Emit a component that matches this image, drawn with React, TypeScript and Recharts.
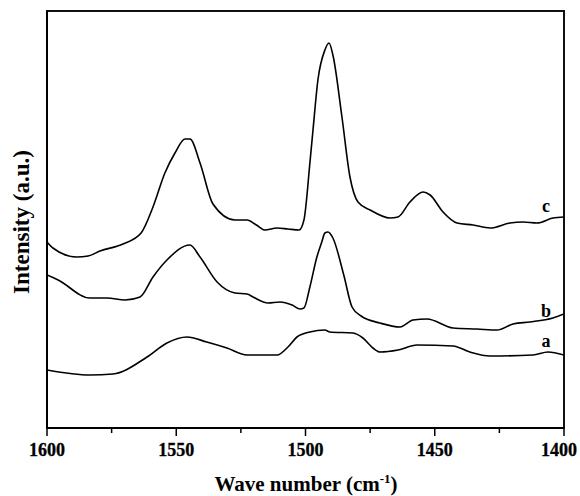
import React from 'react';
import * as R from 'recharts';
import { LineChart, Line, XAxis, YAxis, ReferenceDot } from 'recharts';

const FONT = '"Liberation Serif", "Times New Roman", serif';

const cWave = [1600, 1597.7, 1588.5, 1584.1, 1579.5, 1570.6, 1563.6, 1559.0, 1554.4, 1550.5, 1546.6, 1544.7, 1540.8, 1535.8, 1527.3, 1522.6, 1519, 1515.7, 1511, 1506.8, 1502.5, 1500.6, 1498.3, 1497.1, 1495.2, 1492.5, 1490.9, 1489.4, 1485.9, 1482.8, 1479.7, 1475, 1467.3, 1464.2, 1459.6, 1454.5, 1451.8, 1446.8, 1441.4, 1435.2, 1428.6, 1420.9, 1415.9, 1410.4, 1404.3, 1400];
const cInt = [186, 180, 171, 172, 177, 184, 195, 221, 255, 275, 289, 289, 265, 224, 208, 208, 203, 198, 200, 199, 198, 208, 265, 298, 348, 378, 385, 373, 311, 251, 226, 218, 210, 211, 226, 236, 233, 216, 205, 203, 200, 205, 206, 205, 210, 211];

const bWave = [1600, 1595.7, 1583.4, 1576.8, 1569.8, 1564.0, 1559.0, 1553.6, 1544.7, 1540.8, 1534.2, 1527.3, 1522.6, 1520.3, 1514.5, 1509.9, 1505.2, 1502.1, 1500.6, 1498.3, 1495.6, 1493.7, 1492.5, 1491.3, 1489.4, 1485.2, 1482.0, 1478.5, 1471.2, 1463.4, 1458.4, 1453.0, 1442.9, 1433.7, 1425.9, 1419.7, 1413.2, 1404.3, 1400];
const bInt = [153, 148, 130, 130, 128, 131, 151, 168, 183, 171, 146, 135, 134, 131, 125, 126, 123, 119, 120, 141, 171, 186, 195, 196, 190, 153, 121, 112, 105, 101, 108, 109, 100, 99, 98, 104, 106, 110, 114];

const aWave = [1600, 1583.4, 1574.5, 1561.3, 1553.6, 1545.9, 1538.2, 1530.4, 1522.6, 1518.8, 1511.0, 1506.8, 1503.3, 1498.3, 1492.5, 1490.6, 1481.6, 1477.8, 1473.9, 1471.2, 1464.2, 1456.9, 1442.9, 1436.4, 1428.6, 1412, 1406.2, 1400];
const aInt = [58, 53, 54, 71, 85, 91, 86, 80, 73, 73, 73, 81, 91, 96, 98, 96, 95, 90, 80, 76, 78, 83, 82, 76, 72, 73, 76, 73];

const xTicks = [1600, 1575, 1550, 1525, 1500, 1475, 1450, 1425, 1400];
const majorTicks = [1600, 1550, 1500, 1450, 1400];
const X_MIN = 1400;
const X_MAX = 1600;
const Y_MAX = 417;

const seriesLabels = [
  { name: 'c', x: 1407, y: 216 },
  { name: 'b', x: 1407, y: 111 },
  { name: 'a', x: 1407, y: 81 },
];

const zip = (xs: number[], ys: number[]) => xs.map((x, i) => ({ x, y: ys[i] }));
const cData = zip(cWave, cInt);
const bData = zip(bWave, bInt);
const aData = zip(aWave, aInt);

const textStyle = { fontFamily: FONT, fontWeight: 700 as const };

const renderTick = (props: any) => {
  const { x, y, payload } = props;
  const major = majorTicks.includes(payload.value);
  const dx = payload.value === 1400 ? -5 : 0;
  return (
    <g>
      <line x1={x} x2={x} y1={y} y2={y + (major ? 8 : 5)} stroke="#000" strokeWidth={1.5} />
      {major && (
        <text x={x + dx} y={y + 28} textAnchor="middle" fontSize={18} fill="#000" stroke="#000" strokeWidth={0.3} style={textStyle}>
          {payload.value}
        </text>
      )}
    </g>
  );
};

const XTitle = () => (
  <text x={306} y={491} textAnchor="middle" fontSize={21} fill="#000" style={textStyle}>
    Wave number (cm
    <tspan dy={-8} fontSize={13}>-1</tspan>
    <tspan dy={8}>)</tspan>
  </text>
);

const YTitle = () => (
  <text x={29} y={222} transform="rotate(-90, 29, 222)" textAnchor="middle" fontSize={23} fill="#000" style={textStyle}>
    Intensity (a.u.)
  </text>
);

const Frame = () => {
  const hook: any = (R as any).usePlotArea || (R as any).useOffset;
  const area = hook ? hook() : null;
  if (!area) return null;
  return (
    <rect x={area.x ?? area.left} y={area.y ?? area.top} width={area.width} height={area.height} fill="none" stroke="#111" strokeWidth={2} />
  );
};

export default function App() {
  return (
    <div style={{ position: 'fixed', left: 0, top: 0, background: '#fff' }}>
      <LineChart width={580} height={496} margin={{ top: 11, right: 16, bottom: 38, left: 46 }}>
        <XAxis
          dataKey="x"
          type="number"
          domain={[X_MIN, X_MAX]}
          reversed
          ticks={xTicks}
          interval={0}
          height={30}
          tickSize={0}
          tickMargin={0}
          tickLine={false}
          tick={renderTick}
          axisLine={{ stroke: '#000', strokeWidth: 2 }}
          label={<XTitle />}
          allowDataOverflow
        />
        <YAxis
          type="number"
          domain={[0, Y_MAX]}
          width={1}
          tick={false}
          tickLine={false}
          axisLine={{ stroke: '#000', strokeWidth: 2 }}
          label={<YTitle />}
          allowDataOverflow
        />
        <Frame />
        <Line data={cData} dataKey="y" type="monotone" stroke="#000" strokeWidth={1.6} dot={false} isAnimationActive={false} />
        <Line data={bData} dataKey="y" type="monotone" stroke="#000" strokeWidth={1.6} dot={false} isAnimationActive={false} />
        <Line data={aData} dataKey="y" type="monotone" stroke="#000" strokeWidth={1.6} dot={false} isAnimationActive={false} />
        {seriesLabels.map((s) => (
          <ReferenceDot
            key={s.name}
            x={s.x}
            y={s.y}
            r={0}
            shape={(p: any) => (
              <text x={p.cx} y={p.cy} textAnchor="middle" fontSize={18} fill="#000" style={textStyle}>
                {s.name}
              </text>
            )}
          />
        ))}
      </LineChart>
    </div>
  );
}
